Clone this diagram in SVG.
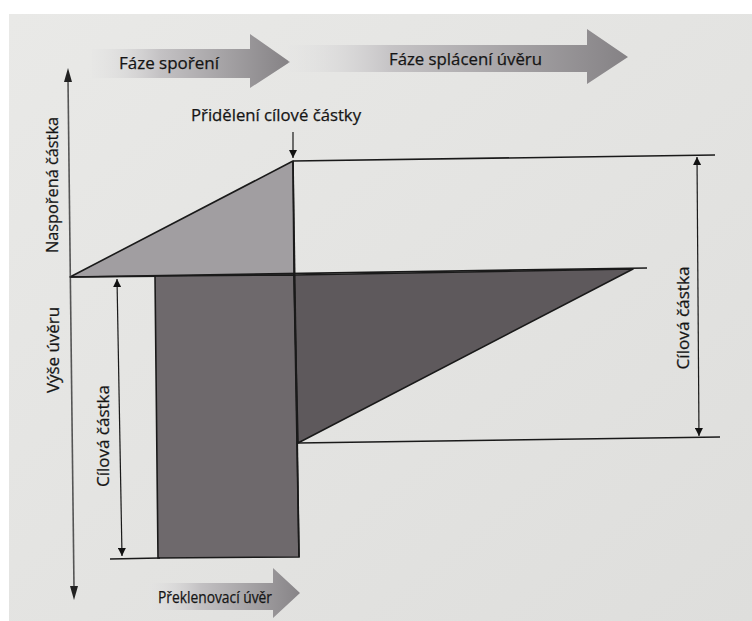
<svg xmlns="http://www.w3.org/2000/svg" width="752" height="621" viewBox="0 0 752 621">
  <defs>
    <linearGradient id="bg" x1="0" y1="0" x2="1" y2="1">
      <stop offset="0" stop-color="#e9e9e7"/>
      <stop offset="1" stop-color="#dededc"/>
    </linearGradient>
    <linearGradient id="arr1" gradientUnits="userSpaceOnUse" x1="90" y1="0" x2="290" y2="0">
      <stop offset="0" stop-color="#e4e4e4" stop-opacity="0.2"/>
      <stop offset="0.35" stop-color="#c4c2c4"/>
      <stop offset="1" stop-color="#858285"/>
    </linearGradient>
    <linearGradient id="arr2" gradientUnits="userSpaceOnUse" x1="288" y1="0" x2="628" y2="0">
      <stop offset="0" stop-color="#e4e4e4" stop-opacity="0.2"/>
      <stop offset="0.3" stop-color="#c6c4c6"/>
      <stop offset="1" stop-color="#858285"/>
    </linearGradient>
    <linearGradient id="arr3" gradientUnits="userSpaceOnUse" x1="148" y1="0" x2="300" y2="0">
      <stop offset="0" stop-color="#e4e4e4" stop-opacity="0.2"/>
      <stop offset="0.35" stop-color="#c2c0c2"/>
      <stop offset="1" stop-color="#878487"/>
    </linearGradient>
    <marker id="ahs" viewBox="0 0 10 10" refX="10" refY="5" markerWidth="13" markerHeight="8" markerUnits="userSpaceOnUse" orient="auto-start-reverse">
      <path d="M0,0 L10,5 L0,10 Z" fill="#111"/>
    </marker>
  </defs>
  <style>
    .lbl { font-family: "Open Sans", "Liberation Sans", sans-serif; font-size: 16.8px; fill: #151515; stroke: #151515; stroke-width: 0.25; }
    .ln { stroke: #1a1a1a; stroke-width: 1.6; fill: none; }
    .axis { stroke: #555; stroke-width: 1.6; fill: none; }
    .dim { stroke: #1a1a1a; stroke-width: 1.2; fill: none; }
  </style>

  <rect x="0" y="0" width="752" height="621" fill="#ffffff"/>
  <rect x="9" y="14" width="743" height="607" fill="url(#bg)"/>

  <!-- phase arrows -->
  <g id="phase-saving">
    <polygon points="92,49 250,49 250,34 290,62 250,88 250,78 92,78" fill="url(#arr1)"/>
    <text class="lbl" x="119" y="69" textLength="100" lengthAdjust="spacingAndGlyphs">Fáze spoření</text>
  </g>
  <g id="phase-repay">
    <polygon points="288,45 587,45 587,29 628,57 587,84 587,72 288,72" fill="url(#arr2)"/>
    <text class="lbl" x="389" y="65" textLength="153" lengthAdjust="spacingAndGlyphs">Fáze splácení úvěru</text>
  </g>
  <g id="bridge-loan">
    <polygon points="148,583 273,583 273,568 300,593 273,618 273,610 148,610" fill="url(#arr3)"/>
    <text class="lbl" x="158" y="603" style="font-size:15.5px" textLength="114" lengthAdjust="spacingAndGlyphs">Překlenovací úvěr</text>
  </g>

  <!-- shapes -->
  <g id="saved-triangle">
    <polygon points="70,277 293,161 294,275" fill="#a19ea1" stroke="#1a1a1a" stroke-width="1.6" stroke-linejoin="round"/>
  </g>
  <g id="loan-rect">
    <polygon points="155,276 294,275 299,557 158,558" fill="#6e696c" stroke="#1a1a1a" stroke-width="1.6"/>
  </g>
  <g id="repay-triangle">
    <polygon points="294,275 633,269 298,443" fill="#5e595c" stroke="#1a1a1a" stroke-width="1.6" stroke-linejoin="round"/>
  </g>

  <!-- connectors / lines -->
  <g id="connectors">
    <line class="axis" x1="68" y1="80" x2="74" y2="588"/>
    <path d="M68,68 L64,82 L72,82 Z" fill="#222"/>
    <path d="M74,600 L70,586 L78,586 Z" fill="#222"/>
    <line class="ln" x1="293" y1="161" x2="715" y2="155"/>
    <line class="ln" x1="70" y1="277" x2="647" y2="268"/>
    <line class="ln" x1="293" y1="161" x2="299" y2="557"/>
    <line class="ln" x1="298" y1="443" x2="720" y2="437"/>
    <line class="ln" x1="110" y1="559" x2="160" y2="558"/>
    <line class="dim" x1="117" y1="279" x2="122" y2="556" marker-start="url(#ahs)" marker-end="url(#ahs)"/>
    <line class="dim" x1="697" y1="157" x2="699" y2="436" marker-start="url(#ahs)" marker-end="url(#ahs)"/>
    <line class="dim" x1="293" y1="132" x2="293" y2="158" marker-end="url(#ahs)"/>
  </g>

  <!-- labels -->
  <g id="labels">
    <text class="lbl" x="191" y="121" textLength="170" lengthAdjust="spacingAndGlyphs">Přidělení cílové částky</text>
    <text class="lbl" text-anchor="middle" transform="translate(58,185) rotate(-90)" textLength="136" lengthAdjust="spacingAndGlyphs">Naspořená částka</text>
    <text class="lbl" text-anchor="middle" transform="translate(59,350) rotate(-90)" textLength="86" lengthAdjust="spacingAndGlyphs">Výše úvěru</text>
    <text class="lbl" text-anchor="middle" transform="translate(109,436) rotate(-90)" textLength="102" lengthAdjust="spacingAndGlyphs">Cílová částka</text>
    <text class="lbl" text-anchor="middle" transform="translate(689,318) rotate(-90)" textLength="103" lengthAdjust="spacingAndGlyphs">Cílová částka</text>
  </g>
</svg>
